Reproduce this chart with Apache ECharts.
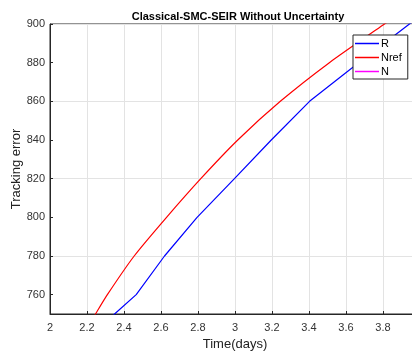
<!DOCTYPE html>
<html>
<head>
<meta charset="utf-8">
<script src="https://cdn.jsdelivr.net/npm/echarts@6/dist/echarts.min.js"></script>
<style>html,body{margin:0;padding:0;background:#fff;}#c{width:412px;height:351px;}</style>
</head>
<body>
<div id="c"></div>
<script>
// Data
var titleText = 'Classical-SMC-SEIR Without Uncertainty';
var xName = 'Time(days)';
var yName = 'Tracking error';
var seriesNames = ['R', 'Nref', 'N'];
var rTime =  [2.30, 2.349, 2.466, 2.619, 2.795, 2.997, 3.196, 3.403, 3.62, 3.943, 4.0];
var rValue = [745.8, 750, 760, 780, 800, 820, 840, 860, 876.3, 900, 904];
var nrefTime =  [2.20, 2.246, 2.31, 2.455, 2.63, 2.815, 3.015, 3.245, 3.51, 3.808, 3.9];
var nrefValue = [742.6, 750, 760, 780, 800, 820, 840, 860, 880, 900, 906];
var nTime = [];
var nValue = [];
var yTickValues = [760, 780, 800, 820, 840, 860, 880, 900];

function pairs(t, v) { return t.map(function (x, i) { return [x, v[i]]; }); }

var chart = echarts.init(document.getElementById('c'), null, {renderer: 'canvas'});
var font = 'Liberation Sans, Arial, sans-serif';
chart.setOption({
  animation: false,
  backgroundColor: '#fff',
  title: {
    text: titleText, left: 233, top: 6, textAlign: 'center',
    textStyle: {fontFamily: font, fontSize: 11, fontWeight: 'bold', color: '#000'}
  },
  grid: {left: 50, top: 24, right: -8, bottom: 37, outerBoundsMode: 'none', containLabel: false,
    show: true, borderColor: '#262626', borderWidth: 1, backgroundColor: '#fff'},
  legend: {
    orient: 'vertical', left: 353, top: 35,
    data: seriesNames,
    icon: 'rect', itemWidth: 24, itemHeight: 1.5, itemGap: 3,
    padding: [3, 6, 2, 2],
    backgroundColor: '#fff', borderColor: '#262626', borderWidth: 1,
    textStyle: {fontFamily: font, fontSize: 11, color: '#000', padding: [0, 0, 0, -3]}
  },
  xAxis: {
    type: 'value', min: 2, max: 4, interval: 0.2,
    name: xName, nameLocation: 'middle', nameGap: 24, nameMoveOverlap: false,
    nameTextStyle: {fontFamily: font, fontSize: 13, color: '#222'},
    axisLine: {show: true, lineStyle: {color: '#262626'}},
    axisTick: {show: true, inside: true, length: 3, lineStyle: {color: '#262626'}},
    axisLabel: {fontFamily: font, fontSize: 11, color: '#333', margin: 8,
      formatter: function (v) { return String(Math.round(v * 10) / 10); }},
    splitLine: {show: true, lineStyle: {color: '#e3e3e3', width: 1}}
  },
  yAxis: {
    type: 'value', min: 750, max: 900, interval: 10,
    name: yName, nameLocation: 'middle', nameGap: 27, nameRotate: 90, nameMoveOverlap: false,
    nameTextStyle: {fontFamily: font, fontSize: 13, color: '#222'},
    axisLine: {show: true, lineStyle: {color: '#262626'}},
    axisTick: {show: true, inside: true, length: 3, customValues: yTickValues, lineStyle: {color: '#262626'}},
    axisLabel: {fontFamily: font, fontSize: 11, color: '#333', margin: 5, customValues: yTickValues},
    splitLine: {show: true, lineStyle: {color: ['transparent', '#e3e3e3'], width: 1}}
  },
  series: [
    {name: seriesNames[0], type: 'line', data: pairs(rTime, rValue), showSymbol: false, symbol: 'none', clip: true,
      lineStyle: {color: '#0000ff', width: 1.2}, itemStyle: {color: '#0000ff'}, z: 3},
    {name: seriesNames[1], type: 'line', data: pairs(nrefTime, nrefValue), showSymbol: false, symbol: 'none', clip: true,
      smooth: 0.2,
      lineStyle: {color: '#ff0000', width: 1.2}, itemStyle: {color: '#ff0000'}, z: 3},
    {name: seriesNames[2], type: 'line', data: pairs(nTime, nValue), showSymbol: false, symbol: 'none', clip: true,
      lineStyle: {color: '#ff00ff', width: 1.2}, itemStyle: {color: '#ff00ff'}, z: 3}
  ]
});
</script>
</body>
</html>
